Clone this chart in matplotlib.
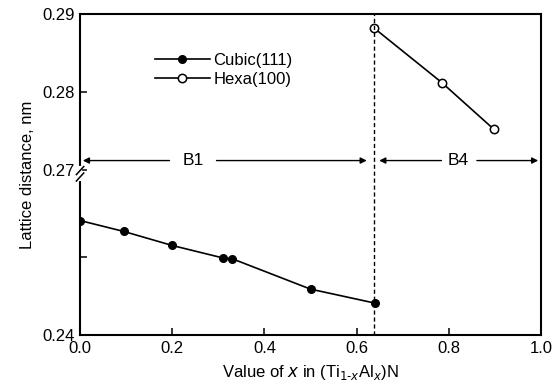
import numpy as np
import matplotlib
matplotlib.use("Agg")
from matplotlib import pyplot as plt

plt.rcParams['font.family'] = ['Liberation Sans', 'DejaVu Sans']

# data
cubic_x = [0.0, 0.095, 0.2, 0.31, 0.33, 0.5, 0.64]
cubic_y = [0.2547, 0.2533, 0.2515, 0.2499, 0.2498, 0.2459, 0.2441]
hexa_x = [0.638, 0.785, 0.898]
hexa_y = [0.2882, 0.2812, 0.2752]
boundary_x = 0.638

yticks = [0.24, 0.25, 0.27, 0.28, 0.29]
ytick_labels = ['0.24', '', '0.27', '0.28', '0.29']
xticks = [0.0, 0.2, 0.4, 0.6, 0.8, 1.0]

# broken y axis: squeeze 0.26 - 0.27
lo, hi, k = 0.26, 0.27, 0.12
def fwd(y):
    y = np.asarray(y, dtype=float)
    return np.where(y < lo, y, np.where(y < hi, lo + (y - lo) * k, y - (hi - lo) * (1 - k)))
def inv(v):
    v = np.asarray(v, dtype=float)
    top = lo + (hi - lo) * k
    return np.where(v < lo, v, np.where(v < top, lo + (v - lo) / k, v + (hi - lo) * (1 - k)))

fig = plt.figure(figsize=(5.56, 3.91), dpi=100)
ax = fig.add_axes([0.144, 0.143, 0.829, 0.821])
ax.set_yscale('function', functions=(fwd, inv))

ax.plot(cubic_x, cubic_y, 'k-', marker='o', ms=5.5, lw=1.2, label='Cubic(111)')
ax.plot(hexa_x, hexa_y, 'k-', marker='o', ms=6, mfc='white', mew=1.1, lw=1.2, label='Hexa(100)')
ax.axvline(boundary_x, color='k', ls=(0, (3, 2)), lw=1.0)

ax.set_xlim(0, 1.0)
ax.set_ylim(0.24, 0.29)
ax.set_yticks(yticks)
ax.set_yticklabels(ytick_labels)
ax.set_xticks(xticks)
ax.set_xticklabels(['%.1f' % t for t in xticks])
ax.minorticks_off()
ax.tick_params(direction='in', labelsize=12, length=5, width=1.1, pad=4)
for s in ax.spines.values():
    s.set_linewidth(1.5)

# phase arrows
arr_y = 0.2712
aprops = dict(arrowstyle='-|>', color='k', lw=1.0, mutation_scale=9)
ax.annotate('', xy=(0.0, arr_y), xytext=(0.2, arr_y), arrowprops=aprops)
ax.annotate('', xy=(boundary_x - 0.01, arr_y), xytext=(0.29, arr_y), arrowprops=aprops)
ax.text(0.245, arr_y, 'B1', ha='center', va='center', fontsize=12.5)
ax.annotate('', xy=(boundary_x + 0.005, arr_y), xytext=(0.79, arr_y), arrowprops=aprops)
ax.annotate('', xy=(1.0, arr_y), xytext=(0.855, arr_y), arrowprops=aprops)
ax.text(0.82, arr_y, 'B4', ha='center', va='center', fontsize=12.5)

# break marks on the left spine
tr = ax.transAxes
ax.plot([0, 0], [0.485, 0.52], color='white', lw=3, transform=tr, clip_on=False, zorder=5)
for y0 in (0.48, 0.50):
    ax.plot([-0.008, 0.008], [y0, y0 + 0.025], color='k', lw=1.1, transform=tr,
            clip_on=False, zorder=6)

ax.legend(loc='upper left', bbox_to_anchor=(0.13, 0.925), frameon=False,
          fontsize=12, handlelength=3.3, handletextpad=0.2, labelspacing=0.25)

ax.set_xlabel('Value of $x$ in (Ti$_{1\u2010x}$Al$_x$)N', fontsize=12, labelpad=5)
ax.set_ylabel('Lattice distance, nm', fontsize=12, labelpad=5)

fig.savefig('out.png', dpi=100)
